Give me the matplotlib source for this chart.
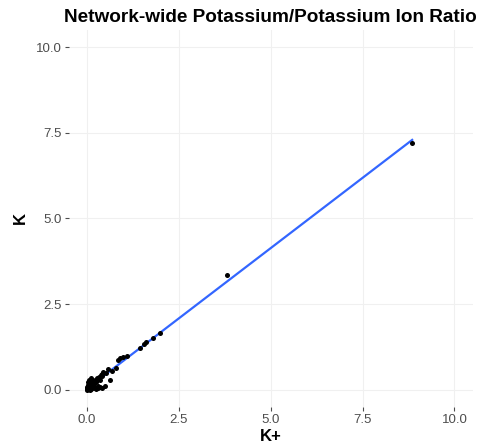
import numpy as np
import matplotlib.pyplot as plt

plt.rcParams['font.family'] = ['Liberation Sans', 'DejaVu Sans']

# K+ (x) and K (y) readings
k_plus = [8.85, 3.80, 1.98, 1.80, 1.62, 1.55, 1.44, 1.08, 0.99, 0.90, 0.85,
          0.80, 0.69, 0.62, 0.58, 0.52, 0.49, 0.45, 0.42, 0.40, 0.38, 0.35,
          0.33, 0.31, 0.30, 0.28, 0.26, 0.25, 0.22, 0.20, 0.19, 0.18, 0.16,
          0.15, 0.14, 0.12, 0.11, 0.10, 0.09, 0.08, 0.07, 0.06, 0.05, 0.05,
          0.04, 0.03, 0.03, 0.02, 0.02, 0.01, 0.01, 0.00, 0.00, 0.15, 0.25,
          0.35, 0.12, 0.30, 0.22, 0.40, 0.08]
k_ion = [7.20, 3.35, 1.65, 1.51, 1.41, 1.35, 1.22, 0.99, 0.96, 0.92, 0.88,
         0.63, 0.55, 0.29, 0.60, 0.50, 0.10, 0.52, 0.45, 0.40, 0.42, 0.30,
         0.38, 0.05, 0.33, 0.30, 0.35, 0.22, 0.28, 0.25, 0.10, 0.20, 0.22,
         0.30, 0.15, 0.18, 0.12, 0.35, 0.10, 0.20, 0.08, 0.12, 0.05, 0.28,
         0.10, 0.03, 0.15, 0.05, 0.22, 0.02, 0.08, 0.00, 0.05, 0.05, 0.02,
         0.08, 0.02, 0.12, 0.05, 0.05, 0.00]
ticks = [0.0, 2.5, 5.0, 7.5, 10.0]

x = np.array(k_plus)
y = np.array(k_ion)

fig = plt.figure(figsize=(4.92, 4.47), dpi=100)
ax = fig.add_axes([0.1394, 0.0895, 0.8216, 0.8435])

ax.scatter(x, y, s=13, color='black', zorder=3, linewidths=0)

# linear fit line
b, a = np.polyfit(x, y, 1)
xs = np.linspace(x.min(), x.max(), 80)
ax.plot(xs, a + b * xs, color='#3366FF', lw=1.6, zorder=2)

ax.set_xlim(-0.5, 10.5)
ax.set_ylim(-0.5, 10.5)
ax.set_xticks(ticks)
ax.set_yticks(ticks)
ax.set_xticklabels([f'{t:.1f}' for t in ticks])
ax.set_yticklabels([f'{t:.1f}' for t in ticks])
ax.grid(True, color='#f0f0f0', lw=0.8)
ax.set_axisbelow(True)
for s in ax.spines.values():
    s.set_visible(False)
ax.tick_params(colors='#4d4d4d', labelcolor='#4d4d4d', labelsize=9.5, length=3, width=0.8, pad=2)

ax.set_xlabel('K+', fontsize=12, fontweight='bold', labelpad=2)
ax.set_ylabel('K', fontsize=12, fontweight='bold', labelpad=6)
ax.set_title('Network-wide Potassium/Potassium Ion Ratio', fontsize=13.7,
             fontweight='bold', pad=6)

fig.savefig('out.png', dpi=100)
